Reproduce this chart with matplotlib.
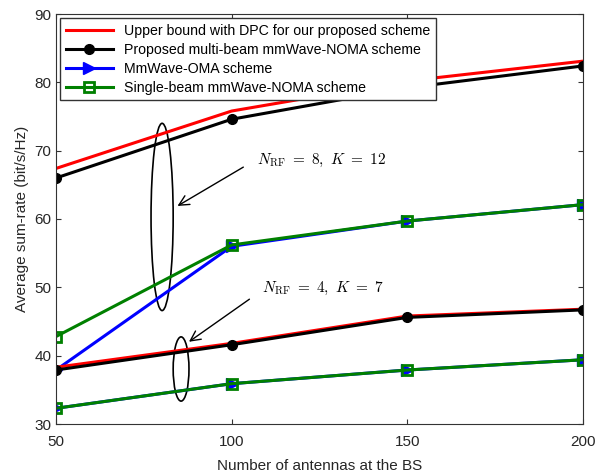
import numpy as np
import matplotlib.pyplot as plt
from matplotlib.patches import Ellipse

plt.rcParams['font.family'] = ['Liberation Sans', 'DejaVu Sans']
plt.rcParams['mathtext.fontset'] = 'cm'

# donnees
antennes = [50, 100, 150, 200]
# N_RF = 8, K = 12
dpc_8 = [67.4, 75.8, 80.2, 83.1]
noma_8 = [66.0, 74.6, 79.2, 82.4]
oma_8 = [37.9, 56.0, 59.7, 62.1]
single_8 = [42.8, 56.2, 59.7, 62.1]
# N_RF = 4, K = 7
dpc_4 = [38.3, 41.8, 45.8, 46.8]
noma_4 = [37.9, 41.6, 45.6, 46.7]
oma_4 = [32.3, 35.9, 37.9, 39.4]
single_4 = [32.3, 35.9, 37.9, 39.4]

labels = ['Upper bound with DPC for our proposed scheme',
          'Proposed multi-beam mmWave-NOMA scheme',
          'MmWave-OMA scheme',
          'Single-beam mmWave-NOMA scheme']

fig = plt.figure(figsize=(5.95, 4.74), dpi=100)
ax = fig.add_axes([56/595, 50/474, 527/595, 410/474])

lw = 2.2
ax.plot(antennes, dpc_8, color='red', lw=lw, label=labels[0])
ax.plot(antennes, noma_8, color='black', lw=lw, marker='o', ms=7, label=labels[1])
ax.plot(antennes, oma_8, color='blue', lw=lw, marker='>', ms=9, label=labels[2])
ax.plot(antennes, single_8, color='green', lw=lw, marker='s', ms=7, mfc='none', mew=2, label=labels[3])
ax.plot(antennes, dpc_4, color='red', lw=lw)
ax.plot(antennes, noma_4, color='black', lw=lw, marker='o', ms=7)
ax.plot(antennes, oma_4, color='blue', lw=lw, marker='>', ms=9)
ax.plot(antennes, single_4, color='green', lw=lw, marker='s', ms=7, mfc='none', mew=2)

# ellipses et fleches
ax.add_patch(Ellipse((80.2, 60.3), 6.3, 27.4, fill=False, ec='black', lw=1.2))
ax.add_patch(Ellipse((85.6, 38.05), 4.5, 9.4, fill=False, ec='black', lw=1.2))
ax.annotate('', xy=(83.9, 61.7), xytext=(104.0, 67.8),
            arrowprops=dict(arrowstyle='->', color='black', lw=1, mutation_scale=18))
ax.annotate('', xy=(87.2, 41.8), xytext=(105.7, 48.5),
            arrowprops=dict(arrowstyle='->', color='black', lw=1, mutation_scale=18))
ax.text(107.2, 68.6, r'$N_{\rm RF}\ =\ 8,\ K\ =\ 12$', fontsize=11, va='center')
ax.text(108.5, 49.9, r'$N_{\rm RF}\ =\ 4,\ K\ =\ 7$', fontsize=11, va='center')

ax.set_xlim(50, 200)
ax.set_ylim(30, 90)
ax.set_xticks([50, 100, 150, 200])
ax.set_yticks(np.arange(30, 91, 10))
ax.tick_params(direction='in', top=True, right=True, labelsize=11, color='#333333',
               labelcolor='#262626')
ax.tick_params(axis='x', pad=8)
for s in ax.spines.values():
    s.set_color('#333333')
ax.set_xlabel('Number of antennas at the BS', fontsize=11, color='#262626', labelpad=7)
ax.set_ylabel('Average sum-rate (bit/s/Hz)', fontsize=11, color='#262626')
ax.legend(loc='upper left', fontsize=10.2, frameon=True, fancybox=False, framealpha=1,
          edgecolor='#333333', borderaxespad=0.3, handlelength=3.3, labelspacing=0.35)

plt.savefig('out.png', dpi=100)
